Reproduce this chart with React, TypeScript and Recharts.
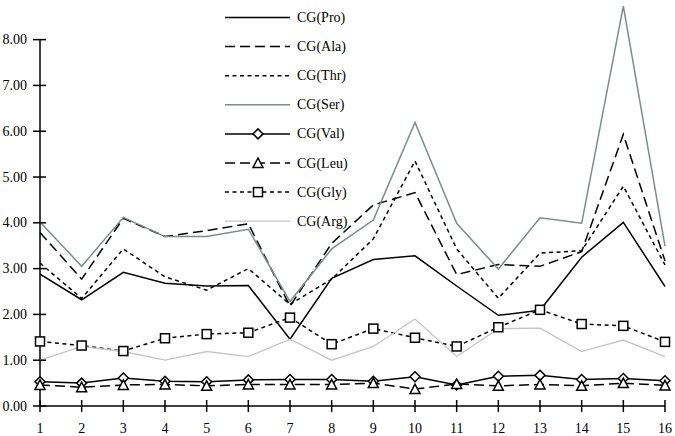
import { LineChart, Line, XAxis, YAxis, ReferenceLine, Legend } from 'recharts'

document.body.style.margin = '0'

const categories = [1, 2, 3, 4, 5, 6, 7, 8, 9, 10, 11, 12, 13, 14, 15, 16]
const yTicks = [0, 1, 2, 3, 4, 5, 6, 7, 8]

const pro = [2.88, 2.32, 2.92, 2.68, 2.62, 2.63, 1.46, 2.79, 3.2, 3.28, 2.62, 1.98, 2.09, 3.25, 4.01, 2.61]
const ala = [3.79, 2.77, 4.1, 3.7, 3.83, 3.98, 2.18, 3.55, 4.39, 4.66, 2.87, 3.09, 3.05, 3.37, 5.93, 3.17]
const thr = [3.12, 2.35, 3.43, 2.82, 2.53, 3.0, 2.22, 2.77, 3.65, 5.35, 3.43, 2.35, 3.34, 3.39, 4.8, 3.08]
const ser = [4.02, 3.05, 4.12, 3.7, 3.7, 3.86, 2.28, 3.43, 4.06, 6.19, 3.99, 2.99, 4.11, 3.99, 8.73, 3.49]
const val = [0.53, 0.5, 0.61, 0.54, 0.53, 0.57, 0.58, 0.58, 0.54, 0.64, 0.46, 0.65, 0.67, 0.58, 0.6, 0.55]
const leu = [0.46, 0.41, 0.46, 0.47, 0.44, 0.47, 0.47, 0.47, 0.5, 0.37, 0.48, 0.44, 0.47, 0.44, 0.5, 0.45]
const gly = [1.41, 1.32, 1.2, 1.48, 1.57, 1.6, 1.93, 1.35, 1.69, 1.49, 1.3, 1.72, 2.1, 1.79, 1.75, 1.4]
const arg = [1.0, 1.3, 1.19, 1.0, 1.19, 1.08, 1.46, 1.0, 1.3, 1.9, 1.08, 1.69, 1.7, 1.19, 1.44, 1.08]

const data = categories.map((c, i) => ({
  idx: c,
  pro: pro[i],
  ala: ala[i],
  thr: thr[i],
  ser: ser[i],
  val: val[i],
  leu: leu[i],
  gly: gly[i],
  arg: arg[i],
}))

type Marker = 'diamond' | 'triangle' | 'square' | null

const SERIES: { key: string; name: string; color: string; width: number; dash?: string; marker: Marker }[] = [
  { key: 'pro', name: 'CG(Pro)', color: '#000', width: 1.5, marker: null },
  { key: 'ala', name: 'CG(Ala)', color: '#000', width: 1.5, dash: '10 5', marker: null },
  { key: 'thr', name: 'CG(Thr)', color: '#000', width: 1.5, dash: '4 3.5', marker: null },
  { key: 'ser', name: 'CG(Ser)', color: '#7f8b8b', width: 1.5, marker: null },
  { key: 'val', name: 'CG(Val)', color: '#000', width: 1.5, marker: 'diamond' },
  { key: 'leu', name: 'CG(Leu)', color: '#000', width: 1.5, dash: '10 5', marker: 'triangle' },
  { key: 'gly', name: 'CG(Gly)', color: '#000', width: 1.5, dash: '4 3.5', marker: 'square' },
  { key: 'arg', name: 'CG(Arg)', color: '#c2c6c6', width: 1.3, marker: null },
]

const textStyle = { fontFamily: "'Liberation Serif', 'Times New Roman', Times, serif", fontSize: 14 }

function markerShape(kind: Marker, cx: number, cy: number, key?: string) {
  if (kind === 'diamond') {
    return <path key={key} d={`M${cx},${cy - 5} L${cx + 5},${cy} L${cx},${cy + 5} L${cx - 5},${cy} Z`} fill="#fff" stroke="#000" strokeWidth={1.5} />
  }
  if (kind === 'triangle') {
    return <path key={key} d={`M${cx},${cy - 5} L${cx + 5},${cy + 4.5} L${cx - 5},${cy + 4.5} Z`} fill="#fff" stroke="#000" strokeWidth={1.5} />
  }
  if (kind === 'square') {
    return <rect key={key} x={cx - 4.5} y={cy - 4.5} width={9} height={9} fill="#fff" stroke="#000" strokeWidth={1.5} />
  }
  return <g key={key} />
}

function YTick(props: any) {
  const { x, y, payload } = props
  const axisX = x + 13
  return (
    <g>
      <line x1={axisX - 7} x2={axisX + 6} y1={y} y2={y} stroke="#000" strokeWidth={1.5} />
      <text x={x} y={y} textAnchor="end" dominantBaseline="central" style={textStyle} fill="#000">
        {Number(payload.value).toFixed(2)}
      </text>
    </g>
  )
}

function XTick(props: any) {
  const { x, y, payload } = props
  const axisY = y - 12
  return (
    <g>
      <line x1={x} x2={x} y1={axisY - 6} y2={axisY + 6} stroke="#000" strokeWidth={1.5} />
      <text x={x} y={axisY + 22} textAnchor="middle" dominantBaseline="central" style={textStyle} fill="#000">
        {payload.value}
      </text>
    </g>
  )
}

function LegendBox() {
  return (
    <svg width={150} height={235}>
      {SERIES.map((s, i) => {
        const y = 17.5 + i * 29.1
        return (
          <g key={s.key}>
            <line x1={5} x2={70} y1={y} y2={y} stroke={s.color} strokeWidth={s.width} strokeDasharray={s.dash} />
            {s.marker && markerShape(s.marker, 38, y)}
            <text x={77} y={y} dominantBaseline="central" style={textStyle} fill="#000">
              {s.name}
            </text>
          </g>
        )
      })}
    </svg>
  )
}

export default function App() {
  return (
    <div style={{ width: 675, height: 436, background: '#fff' }}>
      <LineChart width={675} height={436} data={data} margin={{ top: 3, right: 10, left: 0, bottom: 0 }}>
        <XAxis
          dataKey="idx"
          type="number"
          domain={[1, 16]}
          ticks={categories}
          height={30}
          axisLine={{ stroke: '#000', strokeWidth: 1.5 }}
          tickLine={false}
          tickSize={6}
          tickMargin={6}
          tick={<XTick />}
        />
        <YAxis
          type="number"
          domain={[0, 8.8]}
          ticks={yTicks}
          width={40}
          axisLine={false}
          tickLine={false}
          tickSize={7}
          tickMargin={6}
          tick={<YTick />}
        />
        <ReferenceLine segment={[{ x: 1, y: 0 }, { x: 1, y: 8 }]} stroke="#000" strokeWidth={1.5} />
        <Legend
          layout="vertical"
          align="center"
          verticalAlign="middle"
          content={() => <LegendBox />}
          wrapperStyle={{ left: 220, top: 0, width: 150, height: 235 }}
        />
        {SERIES.map((s) => (
          <Line
            key={s.key}
            type="linear"
            dataKey={s.key}
            name={s.name}
            stroke={s.color}
            strokeWidth={s.width}
            strokeDasharray={s.dash}
            isAnimationActive={false}
            dot={s.marker ? (p: any) => markerShape(s.marker, p.cx, p.cy, `${s.key}-${p.index}`) : false}
            activeDot={false}
          />
        ))}
      </LineChart>
    </div>
  )
}
